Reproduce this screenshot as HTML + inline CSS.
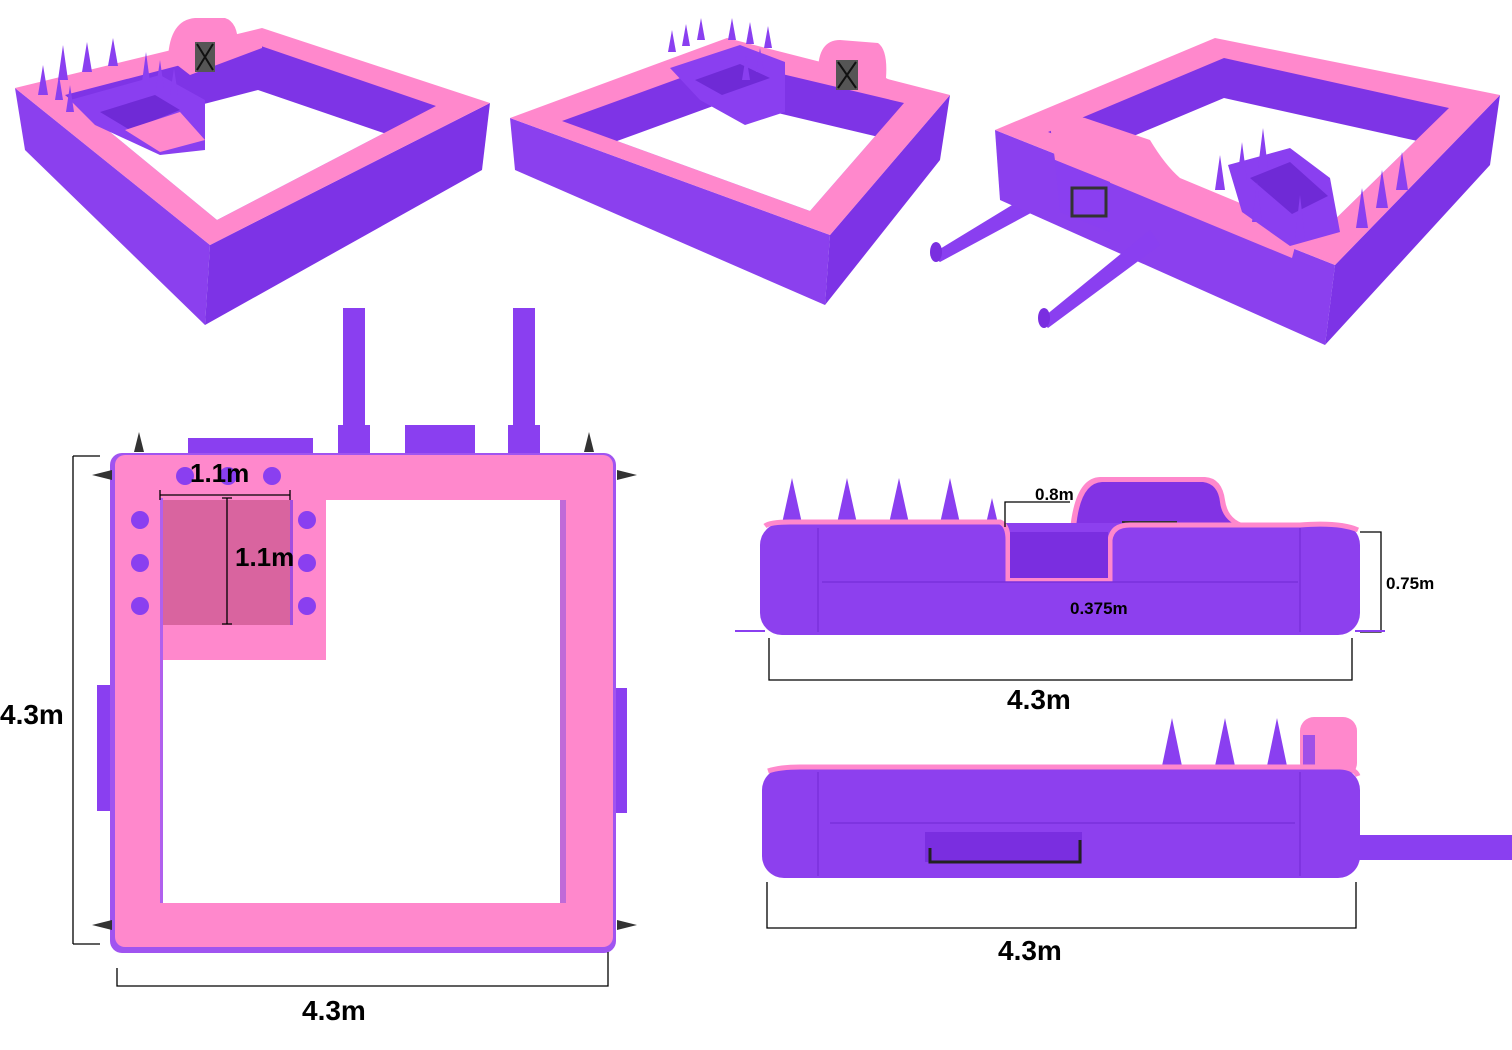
<!DOCTYPE html>
<html><head><meta charset="utf-8"><style>
html,body{margin:0;padding:0;background:#fff;}
svg{display:block;}
text{font-family:"Liberation Sans",sans-serif;font-weight:bold;fill:#000;}
</style></head><body>
<svg width="1512" height="1050" viewBox="0 0 1512 1050" xmlns="http://www.w3.org/2000/svg">
<defs>
<clipPath id="h1"><polygon points="65,95 258,45 436,106 217,220"/></clipPath>
<clipPath id="h2"><polygon points="562,121 727,61 904,103 810,211"/></clipPath>
<clipPath id="h3"><polygon points="1048,132 1224,58 1449,108 1316,238"/></clipPath>
</defs>

<!-- ===== View 1 ===== -->
<g>
<polygon points="15,88 210,245 205,325 25,150" fill="#8b40ee"/>
<polygon points="210,245 490,103 482,170 205,325" fill="#7d33e6"/>
<polygon points="15,88 262,28 490,103 210,245" fill="#ff88cc"/>
<polygon points="65,95 258,45 436,106 217,220" fill="#7e34e6"/>
<polygon points="65,140 258,90 436,151 217,265" fill="#fff" clip-path="url(#h1)"/>
<!-- raised block -->
<path d="M168,58 Q170,20 195,18 L225,18 Q238,22 238,45 L262,32 L262,48 L190,75 Z" fill="#ff88cc"/>
<rect x="195" y="42" width="20" height="30" fill="#555"/>
<path d="M197,44 L213,70 M213,44 L197,70" stroke="#111" stroke-width="2"/>
<!-- inner box -->
<polygon points="70,100 160,75 205,100 205,150 160,155 95,125" fill="#8a3ff0"/>
<polygon points="100,112 155,95 180,110 130,130" fill="#6f2ad6"/>
<polygon points="125,130 180,112 205,140 160,152" fill="#ff88cc"/>
<g fill="#8a3ff0">
<polygon points="38,95 43,65 48,95"/><polygon points="55,100 59,75 63,100"/><polygon points="66,112 70,85 74,112"/>
<polygon points="58,80 63,45 68,80"/><polygon points="82,72 87,42 92,72"/><polygon points="108,66 113,38 118,66"/>
<polygon points="142,82 146,52 150,82"/><polygon points="156,88 160,60 164,88"/><polygon points="170,95 174,68 178,95"/>
</g>
</g>

<!-- ===== View 2 ===== -->
<g>
<polygon points="510,118 830,235 825,305 515,170" fill="#8b40ee"/>
<polygon points="830,235 950,95 940,160 825,305" fill="#7d33e6"/>
<polygon points="510,118 727,38 950,95 830,235" fill="#ff88cc"/>
<polygon points="562,121 727,61 904,103 810,211" fill="#7e34e6"/>
<polygon points="562,161 727,101 904,143 810,251" fill="#fff" clip-path="url(#h2)"/>
<path d="M818,72 Q818,40 840,40 L878,43 Q888,50 886,78 L900,86 L860,92 Z" fill="#ff88cc"/>
<rect x="836" y="60" width="22" height="30" fill="#555"/>
<path d="M838,62 L856,88 M856,62 L838,88" stroke="#111" stroke-width="2"/>
<polygon points="670,68 740,45 785,62 785,112 745,125 700,100" fill="#8a3ff0"/>
<polygon points="695,80 740,64 770,78 722,95" fill="#6f2ad6"/>
<g fill="#8a3ff0">
<polygon points="668,52 672,30 676,52"/><polygon points="682,46 686,24 690,46"/><polygon points="697,40 701,18 705,40"/>
<polygon points="728,40 732,18 736,40"/><polygon points="746,44 750,22 754,44"/><polygon points="764,48 768,26 772,48"/>
<polygon points="742,80 746,55 750,80"/><polygon points="756,72 760,48 764,72"/>
</g>
</g>

<!-- ===== View 3 ===== -->
<g>
<polygon points="930,255 1045,185 1055,200 940,262" fill="#8a3ff0"/>
<ellipse cx="936" cy="252" rx="6" ry="10" fill="#7a2ee0"/>
<polygon points="995,130 1335,265 1325,345 1000,200" fill="#8b40ee"/>
<polygon points="1335,265 1500,95 1490,165 1325,345" fill="#7d33e6"/>
<polygon points="995,130 1215,38 1500,95 1335,265" fill="#ff88cc"/>
<polygon points="1048,132 1224,58 1449,108 1316,238" fill="#7e34e6"/>
<polygon points="1048,172 1224,98 1449,148 1316,278" fill="#fff" clip-path="url(#h3)"/>
<path d="M1050,125 Q1062,112 1085,118 L1150,140 Q1165,165 1180,178 L1300,228 L1292,258 L1055,160 Z" fill="#ff88cc"/>
<polygon points="1055,160 1110,182 1110,232 1060,212" fill="#8a3ff0"/>
<rect x="1072" y="188" width="34" height="28" fill="none" stroke="#333" stroke-width="3"/>
<polygon points="1228,165 1290,148 1330,178 1340,232 1290,246 1242,212" fill="#8a3ff0"/>
<polygon points="1250,178 1290,162 1328,196 1292,214" fill="#6f2ad6"/>
<polygon points="1040,320 1150,230 1160,245 1048,328" fill="#8a3ff0"/>
<ellipse cx="1044" cy="318" rx="6" ry="10" fill="#7a2ee0"/>
<g fill="#8a3ff0">
<polygon points="1215,190 1220,155 1225,190"/><polygon points="1237,180 1242,142 1247,180"/><polygon points="1258,168 1263,128 1268,168"/>
<polygon points="1252,222 1257,182 1262,222"/><polygon points="1295,238 1300,195 1305,238"/><polygon points="1356,228 1362,188 1368,228"/>
<polygon points="1376,208 1382,170 1388,208"/><polygon points="1396,190 1402,152 1408,190"/>
</g>
</g>

<!-- ===== Plan view ===== -->
<g>
<rect x="343" y="308" width="22" height="122" fill="#8a3ff0"/>
<rect x="513" y="308" width="22" height="122" fill="#8a3ff0"/>
<rect x="338" y="425" width="32" height="32" fill="#8a3ff0"/>
<rect x="508" y="425" width="32" height="32" fill="#8a3ff0"/>
<rect x="405" y="425" width="70" height="32" fill="#8a3ff0"/>
<rect x="188" y="438" width="125" height="20" fill="#8a3ff0"/>
<rect x="97" y="685" width="18" height="126" fill="#8a3ff0"/>
<rect x="610" y="688" width="17" height="125" fill="#8a3ff0"/>
<rect x="110" y="453" width="506" height="500" rx="12" fill="#a054f0"/>
<rect x="115" y="455" width="498" height="492" rx="10" fill="#ff88cc"/>
<rect x="163" y="500" width="403" height="403" fill="#fff"/>
<rect x="163" y="498" width="163" height="162" fill="#ff88cc"/>
<rect x="160" y="498" width="3" height="405" fill="#b060ee"/>
<rect x="163" y="500" width="127" height="125" fill="#d9649f"/>
<rect x="290" y="500" width="3" height="125" fill="#a14fe0"/>
<rect x="560" y="500" width="6" height="403" fill="#c06ad8"/>
<g fill="#8a3ff0">
<circle cx="185" cy="476" r="9"/><circle cx="228" cy="476" r="9"/><circle cx="272" cy="476" r="9"/>
<circle cx="140" cy="520" r="9"/><circle cx="140" cy="563" r="9"/><circle cx="140" cy="606" r="9"/>
<circle cx="307" cy="520" r="9"/><circle cx="307" cy="563" r="9"/><circle cx="307" cy="606" r="9"/>
</g>
<g fill="#333">
<polygon points="134,452 139,432 144,452"/><polygon points="584,452 589,432 594,452"/>
<polygon points="92,475 112,470 112,480"/><polygon points="617,470 637,475 617,480"/>
<polygon points="92,925 112,920 112,930"/><polygon points="617,920 637,925 617,930"/>
</g>
<g stroke="#000" stroke-width="1.3" fill="none">
<path d="M73,456 H100 M73,456 V944 M73,944 H100"/>
<path d="M117,968 V986 H608 V952"/>
<path d="M160,490 V500 M160,495 H290 M290,490 V500"/>
<path d="M222,498 H232 M227,498 V624 M222,624 H232"/>
</g>
<text x="0" y="724" font-size="28">4.3m</text>
<text x="302" y="1020" font-size="28">4.3m</text>
<text x="190" y="482" font-size="26">1.1m</text>
<text x="235" y="566" font-size="26">1.1m</text>
</g>

<!-- ===== Side elevation 1 ===== -->
<g>
<g fill="#8a3ff0">
<polygon points="781,528 792,478 803,528"/><polygon points="836,528 847,478 858,528"/>
<polygon points="888,528 899,478 910,528"/><polygon points="939,528 950,478 961,528"/>
<polygon points="985,528 992,498 999,528"/>
</g>
<path d="M1070,530 Q1075,478 1100,477 L1205,477 Q1222,478 1225,500 Q1228,522 1250,525 L1070,530 Z" fill="#ff88cc"/>
<path d="M1076,528 Q1080,483 1102,482 L1203,482 Q1218,484 1220,502 Q1222,520 1240,527 Z" fill="#8233e4"/>
<rect x="1122" y="521" width="55" height="8" fill="#333"/>
<rect x="760" y="523" width="600" height="112" rx="22" fill="#8d40ee"/>
<path d="M765,526 Q770,522 790,522 L1000,522 Q1008,525 1008,540 L1008,580 L1110,580 L1110,540 Q1112,525 1130,525 L1300,525 Q1340,522 1358,530" fill="none" stroke="#ff88cc" stroke-width="5"/>
<rect x="1010" y="532" width="98" height="46" fill="#7a2ee0"/>
<line x1="818" y1="528" x2="818" y2="632" stroke="#7a30dc" stroke-width="1.5"/>
<line x1="1300" y1="528" x2="1300" y2="632" stroke="#7a30dc" stroke-width="1.5"/>
<line x1="822" y1="582" x2="1298" y2="582" stroke="#7a30dc" stroke-width="1.5"/>
<g stroke="#000" stroke-width="1.3" fill="none">
<path d="M1005,527 V502 H1070"/>
<path d="M1360,532 H1381 V632 H1360"/>
<path d="M769,638 V680 H1352 V638"/>
</g>
<rect x="735" y="630" width="30" height="2" fill="#8a3ff0"/>
<rect x="1355" y="630" width="30" height="2" fill="#8a3ff0"/>
<text x="1035" y="500" font-size="17">0.8m</text>
<text x="1386" y="589" font-size="17">0.75m</text>
<text x="1070" y="614" font-size="17">0.375m</text>
<text x="1007" y="709" font-size="28">4.3m</text>
</g>

<!-- ===== Side elevation 2 ===== -->
<g>
<rect x="1358" y="835" width="154" height="25" fill="#8a3ff0"/>
<g fill="#8a3ff0">
<polygon points="1162,766 1172,718 1182,766"/><polygon points="1215,766 1225,718 1235,766"/><polygon points="1267,766 1277,718 1287,766"/>
</g>
<rect x="1300" y="717" width="57" height="60" rx="14" fill="#ff88cc"/>
<rect x="1303" y="735" width="12" height="40" fill="#a050e8"/>
<rect x="762" y="768" width="598" height="110" rx="22" fill="#8d40ee"/>
<path d="M768,771 Q780,767 800,767 L1340,767 Q1355,768 1358,776" fill="none" stroke="#ff88cc" stroke-width="5"/>
<line x1="818" y1="772" x2="818" y2="876" stroke="#7a30dc" stroke-width="1.5"/>
<line x1="1300" y1="772" x2="1300" y2="876" stroke="#7a30dc" stroke-width="1.5"/>
<line x1="830" y1="823" x2="1295" y2="823" stroke="#7a30dc" stroke-width="1.5"/>
<rect x="925" y="832" width="157" height="30" fill="#7a2ee0"/>
<path d="M930,848 V862 H1080 V840" fill="none" stroke="#222" stroke-width="3"/>
<g stroke="#000" stroke-width="1.3" fill="none">
<path d="M767,882 V928 H1356 V882"/>
</g>
<text x="998" y="960" font-size="28">4.3m</text>
</g>
</svg>
</body></html>
